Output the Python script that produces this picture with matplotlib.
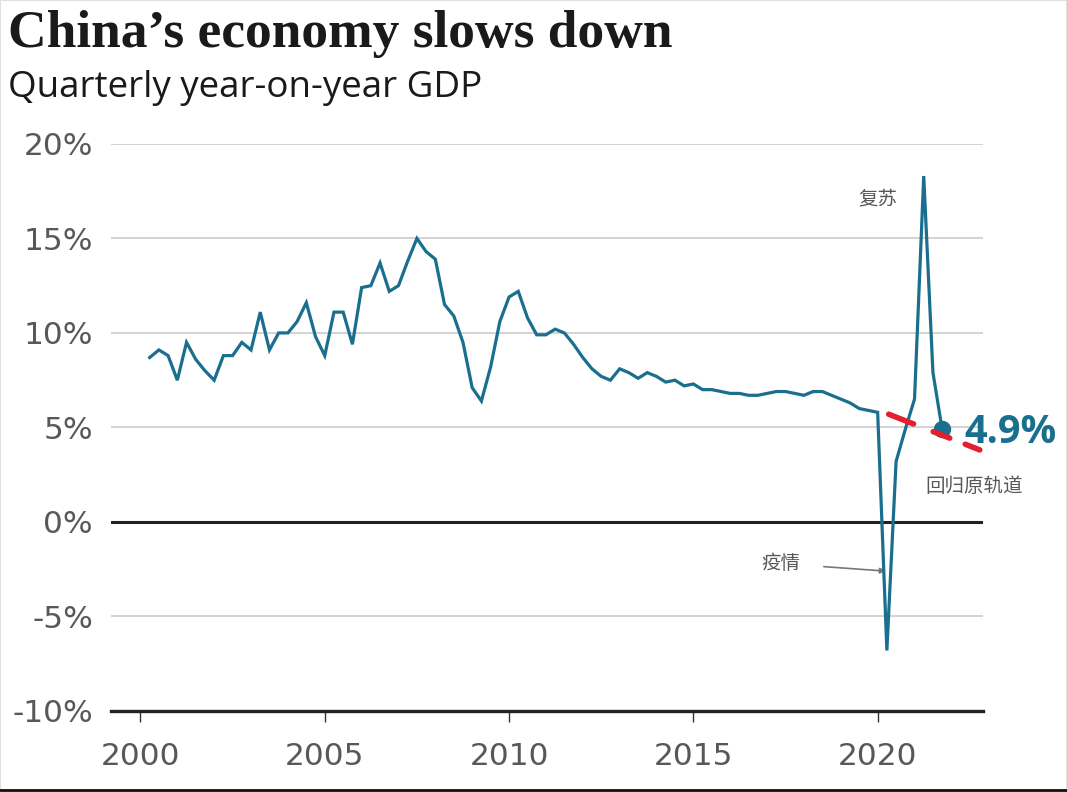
import matplotlib
matplotlib.use("Agg")
import matplotlib.pyplot as plt
from matplotlib.lines import Line2D
from matplotlib.patches import Rectangle
import numpy as np
import pandas as pd

# quarterly year-on-year GDP growth, 2000Q1 .. 2021Q3 (%)
quarters = pd.period_range("2000Q1", "2021Q3", freq="Q")
gdp_growth = [
    8.7, 9.1, 8.8, 7.5,    # 2000
    9.5, 8.6, 8.0, 7.5,    # 2001
    8.8, 8.8, 9.5, 9.1,    # 2002
    11.1, 9.1, 10.0, 10.0, # 2003
    10.6, 11.6, 9.8, 8.8,  # 2004
    11.1, 11.1, 9.4, 12.4, # 2005
    12.5, 13.7, 12.2, 12.5,# 2006
    13.8, 15.0, 14.3, 13.9,# 2007
    11.5, 10.9, 9.5, 7.1,  # 2008
    6.4, 8.2, 10.6, 11.9,  # 2009
    12.2, 10.8, 9.9, 9.9,  # 2010
    10.2, 10.0, 9.4, 8.7,  # 2011
    8.1, 7.7, 7.5, 8.1,    # 2012
    7.9, 7.6, 7.9, 7.7,    # 2013
    7.4, 7.5, 7.2, 7.3,    # 2014
    7.0, 7.0, 6.9, 6.8,    # 2015
    6.8, 6.7, 6.7, 6.8,    # 2016
    6.9, 6.9, 6.8, 6.7,    # 2017
    6.9, 6.9, 6.7, 6.5,    # 2018
    6.3, 6.0, 5.9, 5.8,    # 2019
    -6.8, 3.2, 4.9, 6.5,   # 2020
    18.3, 7.9, 4.9,        # 2021
]
latest_label = "4.9%"

# "back on track" trend line
trend_x = [2020.3, 2022.85]
trend_y = [5.7, 3.75]

year_ticks = [2000, 2005, 2010, 2015, 2020]
pct_ticks = [-10, -5, 0, 5, 10, 15, 20]

line_col = "#1a6e8e"
grey_txt = "#585858"
cjk = ["Noto Sans CJK SC", "DejaVu Sans"]

x = np.array([q.year + q.quarter / 4 for q in quarters])
y = np.array(gdp_growth)

fig = plt.figure(figsize=(10.67, 7.92), dpi=100)
ax = fig.add_axes([0.104, 0.1023, 0.817, 0.716])

ax.plot(x, y, color=line_col, lw=2.3, zorder=4, solid_joinstyle="miter")
ax.plot(x[-1], y[-1], "o", color=line_col, ms=11.5, zorder=5)
# uneven dashes, like the hand drawn overlay
ax.plot(trend_x, trend_y, color="#e3202c", lw=4.0, zorder=6, clip_on=False,
        dashes=(4.8, 3.8, 3.2, 3.0, 2.8, 10), dash_capstyle="round")

ax.axhline(0, color="#222222", lw=2.2, zorder=3)

ax.set_xlim(1999.2, 2022.85)
ax.set_ylim(-10, 20)
ax.set_xticks(year_ticks)
ax.set_yticks(pct_ticks)
ax.set_yticklabels([f"{v}%" for v in pct_ticks])

ax.grid(axis="y", color="#cccccc", lw=1.2, zorder=1)
for s in ["top", "right", "left"]:
    ax.spines[s].set_visible(False)
ax.spines["bottom"].set_color("#222222")
ax.spines["bottom"].set_linewidth(2.4)
ax.spines["bottom"].set_zorder(3)

ax.tick_params(axis="y", length=0, pad=13, labelsize=22.5, labelcolor=grey_txt)
ax.tick_params(axis="x", length=8, width=1, color="#333333", pad=14,
               labelsize=22.5, labelcolor=grey_txt)
for lab in ax.get_xticklabels() + ax.get_yticklabels():
    lab.set_fontfamily("DejaVu Sans")

# end value label
ax.annotate(latest_label, (x[-1], y[-1]), xytext=(16, -2), textcoords="offset points",
            va="center", ha="left", fontsize=28.5, fontweight="bold",
            color=line_col, family="Open Sans", annotation_clip=False)

# chinese notes
ax.text(2020.0, 17.1, "复苏", fontsize=14, color=grey_txt, family=cjk, ha="center", va="center")
ax.text(2022.63, 1.9, "回归原轨道", fontsize=14, color=grey_txt, family=cjk,
        ha="center", va="center", clip_on=False)
ax.annotate("疫情", xy=(2020.22, -2.6), xytext=(2017.37, -2.2), fontsize=14,
            color=grey_txt, family=cjk, ha="center", va="center",
            arrowprops=dict(arrowstyle="-|>", color="#777777", lw=1.2,
                            mutation_scale=8, shrinkA=15, shrinkB=0))

# titles
fig.text(8 / 1067, 1 - 47 / 792, "China\u2019s economy slows down", fontsize=38.5,
         fontweight="bold", family="Liberation Serif", color="#1a1a1a", va="baseline")
fig.text(8 / 1067, 1 - 97 / 792, "Quarterly year-on-year GDP", fontsize=26.5,
         family="Open Sans", color="#1a1a1a", va="baseline")

# thin frame like the source image
fig.patches.append(Rectangle((0, 0), 1, 1, transform=fig.transFigure, fill=False,
                             edgecolor="#e0e0e0", lw=1.5))
fig.lines.append(Line2D([0, 1], [0.002, 0.002], transform=fig.transFigure,
                        color="#111111", lw=2))

fig.savefig("out.png", dpi=100)
